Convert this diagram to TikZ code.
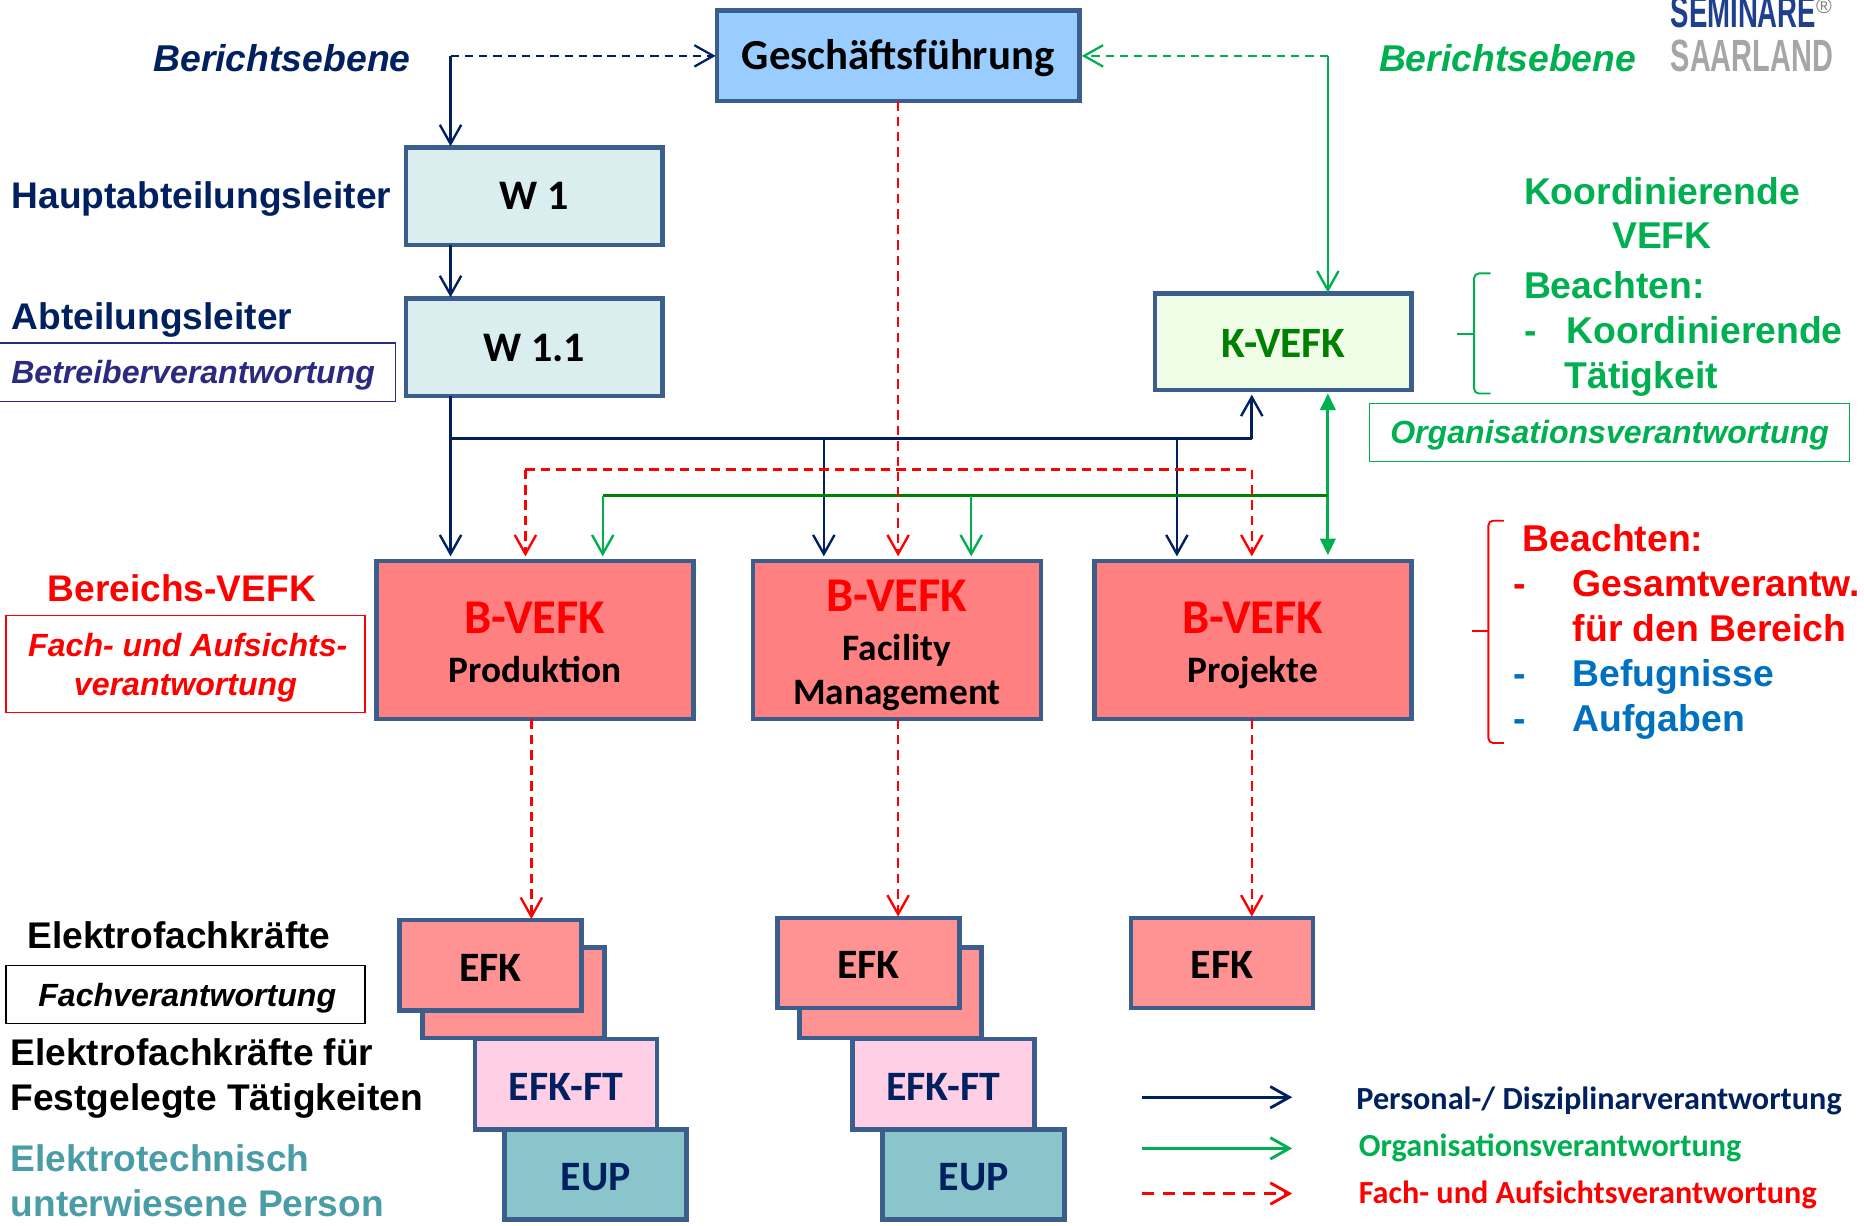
\documentclass[tikz,border=0pt]{standalone}
\usepackage{fontspec}
\setmainfont{Liberation Sans}
\newfontfamily\calib{Carlito}
\newfontfamily\logofont[FakeStretch=0.64]{Liberation Sans}
\newfontfamily\logofontb[FakeStretch=0.61]{Liberation Sans}
\usetikzlibrary{arrows.meta}
\definecolor{navy}{HTML}{002060}
\definecolor{grn}{HTML}{00B050}
\definecolor{dgrn}{HTML}{008000}
\definecolor{rd}{HTML}{FF0000}
\definecolor{tealx}{HTML}{4A9CA6}
\definecolor{blu}{HTML}{0070C0}
\definecolor{bord}{HTML}{3B5E8C}
\definecolor{indi}{HTML}{2A2A7F}
\definecolor{gblue}{HTML}{99CCFF}
\definecolor{wfill}{HTML}{DAEDEF}
\definecolor{kfill}{HTML}{F0FDE6}
\definecolor{bfill}{HTML}{FF8080}
\definecolor{efill}{HTML}{FF9393}
\definecolor{ftfill}{HTML}{FFCFE6}
\definecolor{eupfill}{HTML}{8AC5CC}
\definecolor{logob}{HTML}{1F3F8F}
\definecolor{logog}{HTML}{A6A6A6}
\newcommand\dn[2]{\raisebox{-#1}[\height][\depth]{#2}}
\newcommand\nodp[1]{\raisebox{0pt}[\height][0pt]{#1}}
\newcommand\bighead[1]{{\fontsize{20.4}{22}\selectfont\color{rd}#1}}
\newcommand\subhead[1]{{\fontsize{15.7}{22}\selectfont #1}}
\tikzset{
 box/.style={draw=bord,line width=1.9pt,inner sep=0pt,outer sep=0pt,align=center,font=\calib\bfseries\fontsize{17.7}{22}\selectfont},
 wbox/.style={box,fill=wfill,minimum width=108pt,minimum height=41pt,text=black},
 bbox/.style={box,fill=bfill,minimum height=66.5pt,text=black},
 smallbox/.style={box,minimum width=76.5pt,minimum height=38pt,text=navy,font=\calib\bfseries\fontsize{17.6}{20}\selectfont},
 lab/.style={inner sep=0pt,outer sep=0pt,anchor=west,align=left,font=\bfseries\fontsize{15.6}{19}\selectfont},
 rlab/.style={lab,font=\bfseries\fontsize{15.7}{19}\selectfont},
 ilab/.style={inner sep=0pt,outer sep=0pt,align=center,font=\bfseries\itshape\fontsize{13.5}{16.5}\selectfont},
 framed/.style={draw,line width=.5pt,outer sep=0pt,minimum height=24.5pt},
 leg/.style={inner sep=0pt,outer sep=0pt,anchor=west,font=\calib\bfseries\fontsize{13.55}{16}\selectfont},
 pers/.style={navy,line width=1.05pt,-{Straight Barb[length=8pt,width=9pt,line width=1pt]},shorten >=2pt},
 orga/.style={grn,line width=1pt,-{Straight Barb[length=8pt,width=9pt,line width=1pt]},shorten >=2pt},
 fach/.style={rd,line width=1.05pt,dash pattern=on 4pt off 2.5pt,-{Straight Barb[length=8pt,width=9pt,line width=1pt,sep=0pt]},shorten >=2pt},
 brace/.style={line width=.8pt,rounded corners=2pt},
}
\begin{document}
\begin{tikzpicture}[x=.5pt,y=-.5pt]
\useasboundingbox (0,0) rectangle (1568,1030.5);
% boxes
\node[box,fill=gblue,minimum width=152.5pt,minimum height=38pt,font=\calib\bfseries\fontsize{18}{22}\selectfont] (gf) at (755.5,47) {\dn{1pt}{Geschäftsführung}};
\node[wbox] (w1) at (449.5,165) {W 1};
\node[wbox] (w11) at (449.5,292) {\dn{.5pt}{W 1.1}};
\node[box,fill=kfill,text=dgrn,minimum width=108pt,minimum height=40.5pt,font=\calib\bfseries\fontsize{18.2}{22}\selectfont] (k) at (1079.5,287.5) {\dn{.5pt}{K-VEFK}};
\node[bbox,minimum width=133.5pt] (bp) at (450,538.5) {\rule{0pt}{15pt}\bighead{B-VEFK}\\[-1.5pt]\subhead{\nodp{Produktion}}};
\node[bbox,minimum width=121pt] (bf) at (754.5,538.5) {\rule{0pt}{15pt}\bighead{B-VEFK}\\[-1.5pt]\subhead{\nodp{Facility}}\\[-3.5pt]\subhead{\nodp{Management}}};
\node[bbox,minimum width=133.5pt] (bj) at (1054,538.5) {\rule{0pt}{15pt}\bighead{B-VEFK}\\[-1.5pt]\subhead{\nodp{Projekte}}};
\node[smallbox,fill=efill] (e1b) at (432,835) {};
\node[smallbox,fill=efill,text=black] (e1) at (412.5,812) {\dn{1pt}{EFK}};
\node[smallbox,fill=ftfill] (ft1) at (476,912) {\dn{1pt}{EFK-FT}};
\node[smallbox,fill=eupfill] (eu1) at (501,988) {\dn{1pt}{EUP}};
\node[smallbox,fill=efill] (e2b) at (749,835) {};
\node[smallbox,fill=efill,text=black] (e2) at (730.5,810) {\dn{1pt}{EFK}};
\node[smallbox,fill=ftfill] (ft2) at (793.5,912) {\dn{1pt}{EFK-FT}};
\node[smallbox,fill=eupfill] (eu2) at (819,988) {\dn{1pt}{EUP}};
\node[smallbox,fill=efill,text=black] (e3) at (1028,810) {\dn{1pt}{EFK}};
% connector helper coordinates
\coordinate (xa) at (379,47);
\coordinate (xb) at (1117,47);
\coordinate (xc) at (379,369);
\coordinate (xd) at (693,369);
\coordinate (xe) at (990,369);
\coordinate (xf) at (1053,369);
\coordinate (ra) at (442,395);
\coordinate (rb) at (1053,395);
\coordinate (ga) at (507,417);
\coordinate (gb) at (817,417);
\coordinate (gc) at (1117,417);
\coordinate (rp) at (447,600);
% navy
\draw[navy,line width=.95pt,dash pattern=on 3.5pt off 2.5pt,-{Straight Barb[length=8pt,width=9pt,line width=.95pt]},shorten >=.5pt] (xa) -- (gf.west);
\draw[pers,shorten >=.5pt] (xa) -- (xa |- w1.north);
\draw[pers,shorten >=.5pt] (xa |- w1.south) -- (xa |- w11.north);
\draw[pers] (xa |- w11.south) -- (xa |- bp.north);
\draw[navy,line width=1.4pt] (xc) -- (xf);
\draw[pers,line width=1.1pt] (xf) -- (xf |- k.south);
\draw[pers] (xd) -- (xd |- bf.north);
\draw[pers] (xe) -- (xe |- bj.north);
% green
\draw[grn,line width=.95pt,dash pattern=on 3.5pt off 2.5pt,-{Straight Barb[length=8pt,width=9pt,line width=.95pt]},shorten >=1pt] (xb) -- (gf.east);
\draw[orga,shorten >=.5pt] (xb) -- (xb |- k.north);
\draw[grn,line width=1.2pt,{Triangle[length=7pt,width=6.5pt]}-{Triangle[length=7pt,width=6.5pt]},shorten >=2.5pt,shorten <=1.5pt] (xb |- k.south) -- (xb |- bj.north);
\draw[dgrn,line width=1.3pt] (ga) -- (gc);
\draw[orga] (ga) -- (ga |- bp.north);
\draw[orga] (gb) -- (gb |- bf.north);
% red
\draw[fach] (gf.south) -- (gf.south |- bf.north);
\draw[rd,line width=1.4pt,dash pattern=on 4pt off 2.5pt] (ra) -- (rb);
\draw[fach] (ra) -- (ra |- bp.north);
\draw[fach] (rb) -- (rb |- bj.north);
\draw[fach,shorten >=.5pt] (rp |- bp.south) -- (rp |- e1.north);
\draw[fach,shorten >=.5pt] (bf.south -| gf.south) -- (gf.south |- e2.north);
\draw[fach,shorten >=.5pt] (rb |- bj.south) -- (rb |- e3.north);
% left labels
\node[ilab,anchor=west,text=navy,font=\bfseries\itshape\fontsize{15.7}{19}\selectfont] (l1) at (129,49) {Berichtsebene};
\node[lab,text=navy] (l2) at (10,167) {Hauptabteilungsleiter};
\node[lab,text=navy] (l3) at (10,269) {Abteilungsleiter};
\node[ilab,framed,draw=indi,text=indi,minimum width=166.5pt] (l4) at (166,313) {\hspace{-3.5pt}\dn{1.25pt}{Betreiberverantwortung}};
\node[lab,anchor=center,text=rd] (l5) at (153,495) {Bereichs-VEFK};
\node[ilab,framed,draw=rd,text=rd,minimum width=151pt,minimum height=40.5pt] (l6) at (156,558.5) {\rule{0pt}{13pt}\hspace{2pt}Fach- und Aufsichts-\\verantwortung};
\node[lab,text=black] (l7) at (23,787) {Elektrofachkräfte};
\node[ilab,framed,draw=black,text=black,minimum width=151pt] (l8) at (156,836.5) {\hspace{1.5pt}\dn{1.5pt}{Fachverantwortung}};
\node[lab,text=black] (l9) at (9,907) {Elektrofachkräfte für\\Festgelegte Tätigkeiten};
\node[lab,text=tealx] (l10) at (9,993) {Elektrotechnisch\\unterwiesene Person};
% right labels
\node[ilab,anchor=west,text=grn,font=\bfseries\itshape\fontsize{15.7}{19}\selectfont] (r1) at (1160,49) {Berichtsebene};
\node[rlab,anchor=center,align=center,text=grn,font=\bfseries\fontsize{15.7}{18.5}\selectfont] (r2) at (1398,179) {Koordinierende\\VEFK};
\node[rlab,text=grn] (r3) at (1282,281) {Beachten:\\\makebox[18pt][l]{-}Koordinierende\\\hspace{17pt}Tätigkeit};
\node[ilab,framed,draw=grn,text=grn,minimum width=202pt] (r4) at (1354,364) {\dn{1pt}{Organisationsverantwortung}};
\node[rlab,text=rd] (r5) at (1273,531.5) {\hspace{4pt}Beachten:\\\makebox[25pt][l]{-}Gesamtverantw.\\\hspace{25pt}für den Bereich\\{\color{blu}\makebox[25pt][l]{-}Befugnisse}\\{\color{blu}\makebox[25pt][l]{-}Aufgaben}};
% braces
\coordinate (ba) at (1240,281);
\coordinate (bb) at (1252,531);
\draw[grn,brace] (1254,230) -- (ba |- 0,230) -- (ba |- 0,331) -- (1254,331);
\draw[grn,line width=.8pt] (1226,281) -- (ba);
\draw[rd,brace] (1265,438) -- (bb |- 0,438) -- (bb |- 0,625) -- (1265,625);
\draw[rd,line width=.8pt] (1238,531) -- (bb);
% logo
\node[inner sep=0pt,anchor=base west,text=logob,font=\logofontb\bfseries\fontsize{19}{19}\selectfont] (lg1) at (1405,23) {SEMINARE\raisebox{6pt}{\textcolor{gray}{\fontsize{9}{9}\selectfont\mdseries\normalfont ®}}};
\node[inner sep=0pt,anchor=base west,text=logog,font=\logofont\bfseries\fontsize{19}{19}\selectfont] (lg2) at (1405,60) {SAARLAND};
% legend
\coordinate (la) at (961,923);
\coordinate (lb) at (1087,923);
\coordinate (lc) at (961,966);
\coordinate (ld) at (1087,966);
\coordinate (le) at (961,1004);
\coordinate (lf) at (1087,1004);
\draw[navy,line width=1.4pt,-{Straight Barb[length=8pt,width=9pt,line width=1.2pt]}] (la) -- (lb);
\draw[grn,line width=1.4pt,-{Straight Barb[length=8pt,width=9pt,line width=1.2pt]}] (lc) -- (ld);
\draw[rd,line width=1.6pt,dash pattern=on 5pt off 3.5pt,-{Straight Barb[length=8pt,width=9pt,line width=1.2pt]}] (le) -- (lf);
\node[leg,text=navy] (t1) at (1141,926) {Personal-/ Disziplinarverantwortung};
\node[leg,text=grn] (t2) at (1143,966) {Organisationsverantwortung};
\node[leg,text=rd] (t3) at (1143,1005) {Fach- und Aufsichtsverantwortung};
\end{tikzpicture}
\end{document}
